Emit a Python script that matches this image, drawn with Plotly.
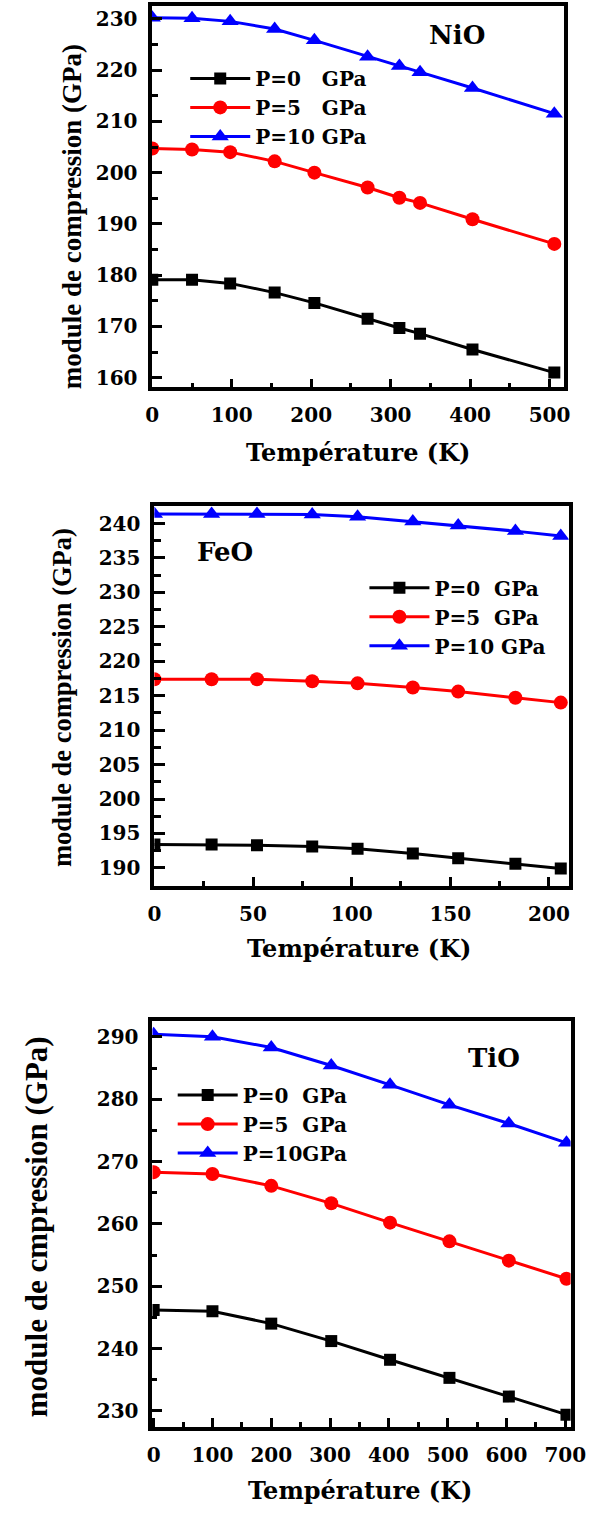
import plotly.graph_objects as go

# ---- data: bulk modulus vs temperature at three pressures ----
nio_T = [0, 50, 98, 154, 204, 271, 311, 337, 403, 506]
nio_p0 = [179.1, 179.1, 178.4, 176.6, 174.6, 171.5, 169.7, 168.6, 165.5, 161.0]
nio_p5 = [204.7, 204.5, 204.0, 202.2, 200.0, 197.1, 195.1, 194.1, 190.9, 186.1]
nio_p10 = [230.2, 230.1, 229.5, 228.0, 225.8, 222.6, 220.8, 219.6, 216.5, 211.5]

feo_T = [0, 29, 52, 80, 103, 131, 154, 183, 206]
feo_p0 = [193.4, 193.4, 193.3, 193.1, 192.8, 192.1, 191.4, 190.6, 189.9]
feo_p5 = [217.4, 217.4, 217.4, 217.1, 216.8, 216.2, 215.6, 214.7, 214.0]
feo_p10 = [241.4, 241.4, 241.4, 241.3, 241.0, 240.3, 239.7, 238.9, 238.2]

tio_T = [0, 100, 200, 302, 402, 503, 604, 702]
tio_p0 = [246.2, 246.0, 244.0, 241.2, 238.2, 235.3, 232.3, 229.4]
tio_p5 = [268.3, 268.0, 266.1, 263.3, 260.2, 257.2, 254.1, 251.2]
tio_p10 = [290.4, 290.0, 288.3, 285.4, 282.3, 279.1, 276.1, 273.0]

labels_nio = ["P=0\u2007 GPa", "P=5\u2007 GPa", "P=10 GPa"]
labels_feo = ["P=0\u2007GPa", "P=5\u2007GPa", "P=10 GPa"]
labels_tio = ["P=0\u2007GPa", "P=5\u2007GPa", "P=10GPa"]

W, H = 601, 1516
SERIF = "DejaVu Serif"
TIMES = "Liberation Serif"

styles = [
    dict(color="#000000", symbol="square", size=12),
    dict(color="#ff0000", symbol="circle", size=14),
    dict(color="#0000ff", symbol="triangle-up", size=15),
]


def xdom(l, r):
    return [l / W, r / W]


def ydom(top, bottom):
    return [1 - bottom / H, 1 - top / H]


fig = go.Figure()

panels = [
    (nio_T, [nio_p0, nio_p5, nio_p10], labels_nio, "", "legend"),
    (feo_T, [feo_p0, feo_p5, feo_p10], labels_feo, "2", "legend2"),
    (tio_T, [tio_p0, tio_p5, tio_p10], labels_tio, "3", "legend3"),
]
for T, series, labels, sfx, leg in panels:
    for vals, name, st in zip(series, labels, styles):
        fig.add_trace(go.Scatter(
            x=T, y=vals, name=name, mode="lines+markers",
            line=dict(color=st["color"], width=3),
            marker=dict(color=st["color"], symbol=st["symbol"], size=st["size"]),
            xaxis="x" + sfx, yaxis="y" + sfx, legend=leg,
        ))

tickfont = dict(family=SERIF, size=20, color="black", weight="bold")


def axis(dom, rng, dtick, anchor, ml, mnl, standoff):
    return dict(domain=dom, range=rng, anchor=anchor, dtick=dtick, tick0=0,
                ticks="inside", ticklen=ml, tickwidth=3, tickcolor="black",
                minor=dict(dtick=dtick / 2, ticks="inside", ticklen=mnl,
                           tickwidth=3, tickcolor="black"),
                showline=True, linewidth=4, linecolor="black", mirror=True,
                showgrid=False, zeroline=False, tickfont=tickfont,
                ticklabelstandoff=standoff)


legfont = dict(family=SERIF, size=20, color="black", weight="bold")


def legend(x, y):
    return dict(x=x / W, y=1 - y / H, xanchor="left", yanchor="top",
                bgcolor="rgba(0,0,0,0)", borderwidth=0, font=legfont,
                itemwidth=60, tracegroupgap=0)


def note(text, x, y, size, family=SERIF, angle=0):
    return dict(text=text, x=x / W, y=1 - y / H, xref="paper", yref="paper",
                showarrow=False, textangle=angle, xanchor="center", yanchor="middle",
                font=dict(family=family, size=size, color="black", weight="bold"))


fig.update_layout(
    width=W, height=H, margin=dict(l=0, r=0, t=0, b=0),
    paper_bgcolor="white", plot_bgcolor="white",
    xaxis=axis(xdom(150, 578), [-1, 518], 100, "y", 8, 4, 7),
    yaxis=axis(ydom(6, 388), [158.1, 232.5], 10, "x", 10, 6, 6),
    xaxis2=axis(xdom(153, 583), [0, 210], 50, "y2", 9, 5, 7),
    yaxis2=axis(ydom(507, 887), [187.4, 242.5], 5, "x2", 11, 7, 6),
    xaxis3=axis(xdom(151, 585), [-2, 709], 100, "y3", 9, 5, 7),
    yaxis3=axis(ydom(1022, 1429), [227.4, 292.6], 10, "x3", 10, 5, 6),
    legend=legend(185, 59),
    legend2=legend(371, 569),
    legend3=legend(172, 1077),
    annotations=[
        note("NiO", 467, 35, 26),
        note("FeO", 226, 553, 26),
        note("TiO", 505, 1059, 26),
        note("Température (K)", 364, 453, 24),
        note("Température (K)", 365, 950, 24),
        note("Température (K)", 366, 1492, 24),
        note("module de compression (GPa)", 67, 217, 27, TIMES, -90),
        note("module de compression (GPa)", 57, 698, 26.5, TIMES, -90),
        note("module de cmpression (GPa)", 31, 1228, 31, TIMES, -90),
    ],
)

fig.write_html("out.html")
